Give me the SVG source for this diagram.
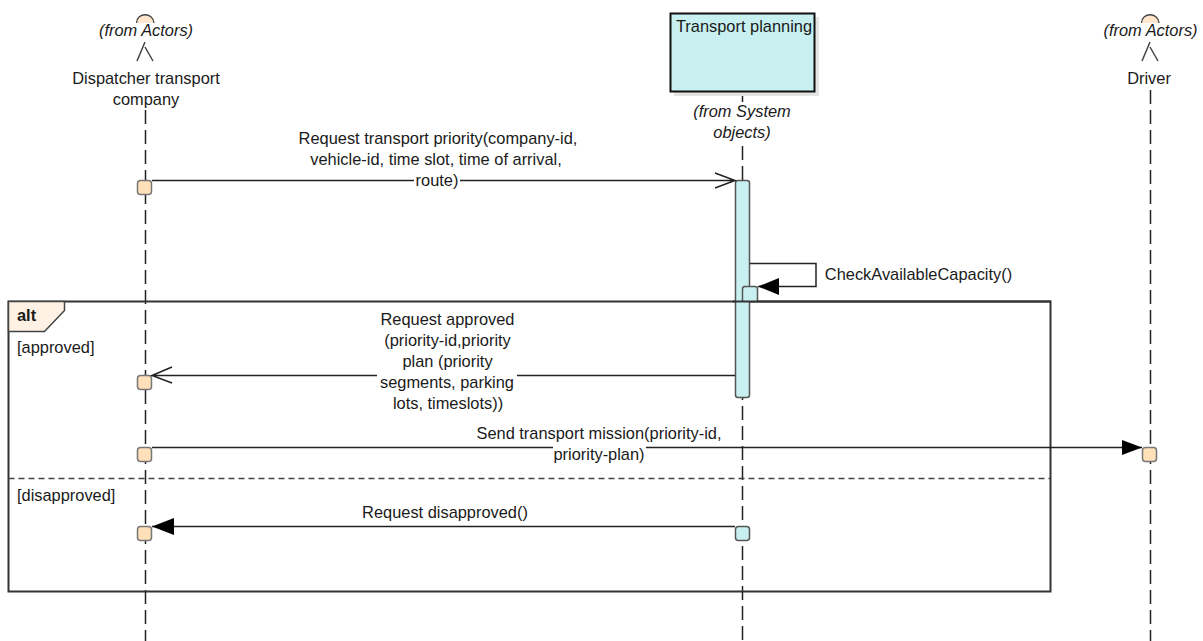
<svg xmlns="http://www.w3.org/2000/svg" width="1203" height="641" viewBox="0 0 1203 641">
<style>
text{font-family:"Liberation Sans",Arial,sans-serif;font-size:16.4px;fill:#1a1a1a;text-anchor:middle}
.i{font-style:italic}
.l{text-anchor:start}
.life{stroke:#222;stroke-width:1.5;stroke-dasharray:14 6;fill:none}
.msg{stroke:#222;stroke-width:1.5;fill:none}
.act{fill:#ffe0b8;stroke:#777;stroke-width:1.5}
.sys{fill:#c8f0f0;stroke:#555;stroke-width:1.5}
.bg{fill:#fff;stroke:none}
.fig{fill:none;stroke:#444;stroke-width:1.5}
.head{fill:#000;stroke:none}
</style>
<g id="lifelines">
<path class="life" d="M145.500 110V641"/>
<path class="life" d="M742.500 146V641"/>
<path class="life" d="M1150.500 90V641"/>
<path d="M742.500 92V102" stroke="#222" stroke-width="1.500"/>
</g>
<g id="alt-fragment">
<rect x="8.500" y="301.500" width="1042" height="290" fill="none" stroke="#333" stroke-width="2"/>
<path d="M8.500 301.500H64.500V310.500L44.500 331.500H8.500Z" fill="#fff2e4" stroke="#444" stroke-width="1.500"/>
<text x="17" y="321" class="l" style="font-weight:bold">alt</text>
<text x="17" y="353" class="l">[approved]</text>
<path d="M8.500 478.500H1050" stroke="#444" stroke-width="1.500" stroke-dasharray="6 4"/>
<text x="17" y="501" class="l">[disapproved]</text>
</g>
<g id="actor-dispatcher">
<path d="M136.500 23C137 12 153 12 154 23" fill="#ffe6cc" stroke="#444" stroke-width="1.300"/>
<path class="fig" d="M145 42L137 61M145 47L153 61"/>
<text x="146" y="36" class="i">(from Actors)</text>
<text x="146" y="84">Dispatcher transport</text>
<text x="146" y="105">company</text>
</g>
<g id="object-transport-planning">
<rect x="674" y="17" width="145" height="79" fill="#e4e4e4"/>
<rect x="670.500" y="13.500" width="144" height="78" fill="#c8f0f0" stroke="#111" stroke-width="2"/>
<text x="744" y="32">Transport planning</text>
<text x="742" y="117" class="i">(from System</text>
<text x="742" y="138" class="i">objects)</text>
</g>
<g id="actor-driver">
<path d="M1141.500 23C1142 12 1158 12 1159 23" fill="#ffe6cc" stroke="#444" stroke-width="1.300"/>
<path class="fig" d="M1150 42L1142 61M1150 47L1158 61"/>
<text x="1150.500" y="36" class="i">(from Actors)</text>
<text x="1149" y="84">Driver</text>
</g>
<g id="activations">
<rect class="sys" x="735.500" y="180.500" width="14" height="217" rx="2.500"/>
<path class="sys" d="M742.500 301V289Q742.500 286.500 745 286.500H755Q757.500 286.500 757.500 289V301"/>
<path d="M733 301.500H1051" stroke="#333" stroke-width="2"/>
<rect class="act" x="137.500" y="180.500" width="14" height="14" rx="3"/>
<rect class="act" x="137.500" y="375.500" width="14" height="14" rx="3"/>
<rect class="act" x="137.500" y="447.500" width="14" height="14" rx="3"/>
<rect class="act" x="137.500" y="526.500" width="14" height="14" rx="3"/>
<rect class="act" x="1142.500" y="447.500" width="14" height="14" rx="3"/>
<rect class="sys" x="735.500" y="526.500" width="14" height="14" rx="3"/>
</g>
<g id="connectors">
<path class="msg" d="M152 180.500H735M715 173L735 180.500L715 188"/>
<path class="msg" d="M750 263.500H816V286.500H758"/>
<path class="head" d="M758 286.500L779 278V295Z"/>
<path class="msg" d="M735 375.500H152M172 367L152 375.500L172 383"/>
<path class="msg" d="M152 447.500H1142"/>
<path class="head" d="M1142 447.500L1122 440V455Z"/>
<path class="msg" d="M735 526.500H152"/>
<path class="head" d="M152 526.500L174 518V535Z"/>
</g>
<g id="labels">
<rect class="bg" x="414" y="178" width="46" height="5"/>
<text x="438" y="144">Request transport priority(company-id,</text>
<text x="436" y="165">vehicle-id, time slot, time of arrival,</text>
<text x="437" y="186">route)</text>
<text x="918.500" y="280">CheckAvailableCapacity()</text>
<rect class="bg" x="377" y="373" width="140" height="5"/>
<text x="447.500" y="325">Request approved</text>
<text x="447.500" y="346">(priority-id,priority</text>
<text x="447.500" y="367">plan (priority</text>
<text x="447" y="388">segments, parking</text>
<text x="448" y="409">lots, timeslots))</text>
<rect class="bg" x="553" y="445" width="93" height="5"/>
<text x="599" y="439">Send transport mission(priority-id,</text>
<text x="599" y="460">priority-plan)</text>
<text x="445" y="518">Request disapproved()</text>
</g>
</svg>
